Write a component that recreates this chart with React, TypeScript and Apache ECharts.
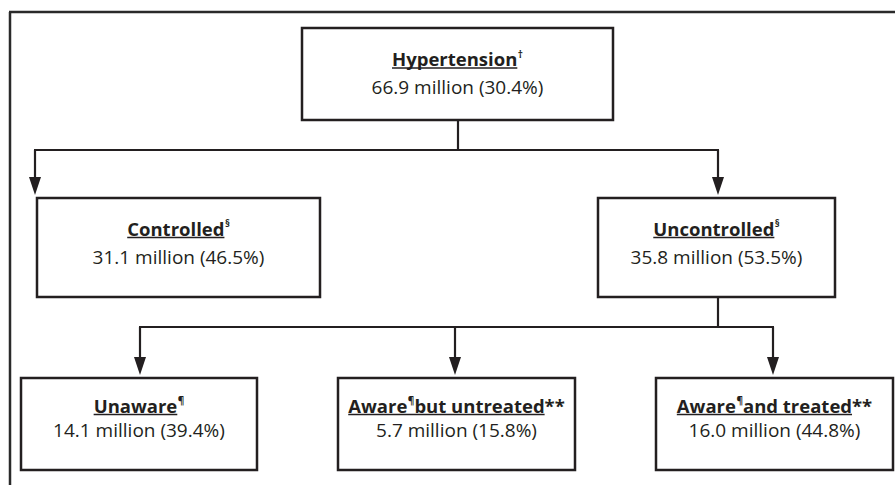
import React, { useEffect, useRef } from "react";
import * as echarts from "echarts";

// ---- data ----
const nodeTitles = ["Hypertension", "Controlled", "Uncontrolled", "Unaware", "Aware¶but untreated", "Aware¶and treated"];
const nodeNotes = ["†", "§", "§", "¶", "**", "**"];
const nodeMillions = [66.9, 31.1, 35.8, 14.1, 5.7, 16.0];
const nodePercents = [30.4, 46.5, 53.5, 39.4, 15.8, 44.8];
const nodeParents = [-1, 0, 0, 2, 2, 2];

// ---- layout ----
const boxes = [
  { x: 302, y: 28, w: 311, h: 92, l1: 58.5, l2: 86.5, ax: 0 },
  { x: 37, y: 198, w: 283, h: 99, l1: 228, l2: 257, ax: 35 },
  { x: 598, y: 198, w: 237, h: 99, l1: 228, l2: 257, ax: 718 },
  { x: 21, y: 378, w: 236, h: 92, l1: 405, l2: 430, ax: 140 },
  { x: 338, y: 378, w: 237, h: 92, l1: 405, l2: 430, ax: 455 },
  { x: 656, y: 378, w: 237, h: 92, l1: 405, l2: 430, ax: 773 },
];
const stems: Record<number, { x: number; busY: number }> = {
  0: { x: 458, busY: 150 },
  2: { x: 718, busY: 327 },
};

const INK = "#231f20";
const FONT = "'Open Sans', 'Noto Sans', sans-serif";
const FS = 19;
const FSB = 18.5;
const SUP = 10;

export default function App() {
  const ref = useRef<HTMLDivElement>(null);
  useEffect(() => {
    if (!ref.current) return;
    const chart = echarts.init(ref.current, undefined, { renderer: "svg" });
    const canvas = document.createElement("canvas");
    const ctx = canvas.getContext("2d")!;
    const measure = (t: string, size: number, bold: boolean) => {
      ctx.font = `${bold ? "bold " : ""}${size}px ${FONT}`;
      return ctx.measureText(t).width;
    };

    const els: any[] = [];
    // outer frame
    els.push({ type: "line", shape: { x1: 9, y1: 12, x2: 895, y2: 12 }, style: { stroke: "#2a2a2a", lineWidth: 2.5 } });
    els.push({ type: "line", shape: { x1: 10, y1: 12, x2: 10, y2: 485 }, style: { stroke: "#2a2a2a", lineWidth: 2.5 } });

    // connectors
    Object.keys(stems).forEach((k) => {
      const p = Number(k);
      const s = stems[p];
      const pb = boxes[p];
      const kids = nodeParents.map((q, i) => (q === p ? i : -1)).filter((i) => i >= 0);
      const xs = kids.map((i) => boxes[i].ax);
      els.push({ type: "line", shape: { x1: s.x, y1: pb.y + pb.h, x2: s.x, y2: s.busY }, style: { stroke: INK, lineWidth: 2.2 } });
      els.push({ type: "line", shape: { x1: Math.min(...xs) - 1, y1: s.busY, x2: Math.max(...xs) + 1, y2: s.busY }, style: { stroke: INK, lineWidth: 2.2 } });
      kids.forEach((i) => {
        const b = boxes[i];
        const tip = b.y - 3;
        els.push({ type: "line", shape: { x1: b.ax, y1: s.busY, x2: b.ax, y2: tip - 14 }, style: { stroke: INK, lineWidth: 2.2 } });
        els.push({ type: "polygon", shape: { points: [[b.ax - 6, tip - 18], [b.ax + 6, tip - 18], [b.ax, tip]] }, style: { fill: INK } });
      });
    });

    // boxes and labels
    boxes.forEach((b, i) => {
      els.push({ type: "rect", shape: { x: b.x, y: b.y, width: b.w, height: b.h }, style: { fill: "#fff", stroke: INK, lineWidth: 2.5 } });
      const cx = b.x + b.w / 2;
      const parts: { t: string; sup: boolean; ul: boolean }[] = [];
      const segs = nodeTitles[i].split("¶");
      segs.forEach((sg, j) => {
        parts.push({ t: sg, sup: false, ul: true });
        if (j < segs.length - 1) parts.push({ t: "¶", sup: true, ul: true });
      });
      const note = nodeNotes[i];
      const noteSup = note !== "**";
      parts.push({ t: note, sup: noteSup, ul: false });
      const widths = parts.map((p) => measure(p.t, p.sup ? SUP : FSB, true) + (p.sup ? 0.5 : 0));
      const total = widths.reduce((a, c) => a + c, 0);
      let x = cx - total / 2;
      const ulStart = x;
      let ulEnd = x;
      parts.forEach((p, j) => {
        els.push({
          type: "text",
          x: x + (p.sup ? 0.5 : 0),
          y: p.sup ? b.l1 - 5 : b.l1,
          style: {
            text: p.t,
            fontSize: p.sup ? SUP : FSB,
            fontWeight: "bold",
            fontFamily: FONT,
            fill: INK,
            textAlign: "left",
            textVerticalAlign: "middle",
            verticalAlign: "middle",
          },
        });
        x += widths[j];
        if (p.ul) ulEnd = x;
      });
      els.push({ type: "line", shape: { x1: ulStart, y1: b.l1 + 9.5, x2: ulEnd, y2: b.l1 + 9.5 }, style: { stroke: INK, lineWidth: 1.3 } });
      els.push({
        type: "text",
        x: cx,
        y: b.l2,
        style: {
          text: `${nodeMillions[i].toFixed(1)} million (${nodePercents[i].toFixed(1)}%)`,
          fontSize: FS,
          fontFamily: FONT,
          fill: INK,
          textAlign: "center",
          textVerticalAlign: "middle",
          verticalAlign: "middle",
        },
      });
    });

    chart.setOption({ animation: false, backgroundColor: "#fff", graphic: { elements: els } });
    return () => chart.dispose();
  }, []);
  return <div ref={ref} style={{ position: "fixed", left: 0, top: 0, width: 895, height: 485 }} />;
}
